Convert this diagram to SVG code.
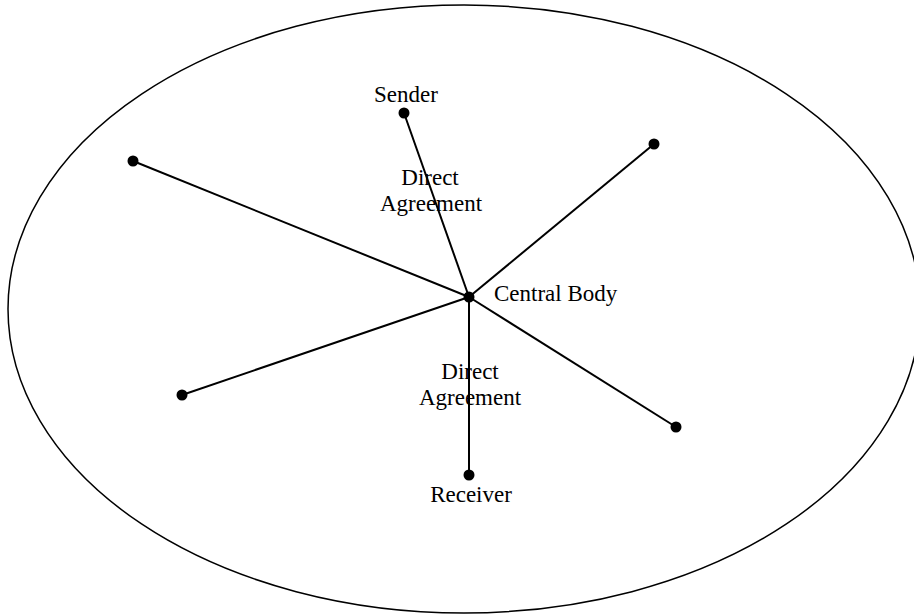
<svg xmlns="http://www.w3.org/2000/svg" width="914" height="616" viewBox="0 0 914 616">
<style>
.ln{stroke:#000;stroke-width:2;fill:none}
.dot{fill:#000}
text{font-family:"Liberation Serif","Times New Roman",serif;font-size:23px;fill:#000}
</style>
<rect width="914" height="616" fill="#fff"/>
<g id="boundary"><ellipse cx="464" cy="309" rx="456" ry="304" fill="none" stroke="#000" stroke-width="1.5"/></g>
<g id="connectors">
<line class="ln" x1="469" y1="297" x2="404" y2="113"/>
<line class="ln" x1="469" y1="297" x2="133" y2="161"/>
<line class="ln" x1="469" y1="297" x2="654" y2="144"/>
<line class="ln" x1="469" y1="297" x2="182" y2="395"/>
<line class="ln" x1="469" y1="297" x2="676" y2="427"/>
<line class="ln" x1="469" y1="297" x2="469" y2="475"/>
</g>
<g id="central"><circle class="dot" cx="469" cy="297" r="5.5"/><text x="494" y="301">Central Body</text></g>
<g id="sender"><circle class="dot" cx="404" cy="113" r="5.5"/><text x="374" y="102">Sender</text></g>
<g id="receiver"><circle class="dot" cx="469" cy="475" r="5.5"/><text x="471" y="502" text-anchor="middle">Receiver</text></g>
<g id="node-tl"><circle class="dot" cx="133" cy="161" r="5.5"/></g>
<g id="node-tr"><circle class="dot" cx="654" cy="144" r="5.5"/></g>
<g id="node-bl"><circle class="dot" cx="182" cy="395" r="5.5"/></g>
<g id="node-br"><circle class="dot" cx="676" cy="427" r="5.5"/></g>
<g id="label-upper"><text x="430" y="185" text-anchor="middle">Direct</text><text x="431" y="211" text-anchor="middle">Agreement</text></g>
<g id="label-lower"><text x="470" y="379" text-anchor="middle">Direct</text><text x="470" y="405" text-anchor="middle">Agreement</text></g>
</svg>
